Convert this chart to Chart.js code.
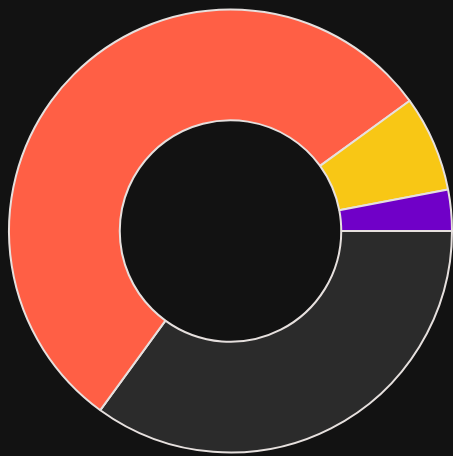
<!DOCTYPE html>
<html>
<head>
<meta charset="utf-8">
<script src="https://cdn.jsdelivr.net/npm/chart.js@4"></script>
<style>
  html, body { margin: 0; padding: 0; background: #121212; }
  #wrap { width: 453px; height: 456px; }
</style>
</head>
<body>
<div id="wrap"><canvas id="donut"></canvas></div>
<script>
// Slice data, clockwise from 3 o'clock
const labels = ['Gray', 'Red', 'Yellow', 'Purple'];
const values = [35, 55, 7, 3];
const colors = ['#2b2b2b', '#ff5f45', '#f8c715', '#7000c8'];

const ctx = document.getElementById('donut').getContext('2d');

new Chart(ctx, {
    type: 'doughnut',
    data: {
        labels: labels,
        datasets: [{
            data: values,
            backgroundColor: colors,
            borderColor: '#e6e0de',
            borderWidth: 2
        }]
    },
    options: {
        responsive: true,
        maintainAspectRatio: false,
        animation: false,
        rotation: 90,
        cutout: '50%',
        layout: { padding: { left: 8, top: 8, right: 0, bottom: 2 } },
        plugins: {
            legend: { display: false },
            tooltip: { enabled: false }
        }
    }
});
</script>
</body>
</html>
